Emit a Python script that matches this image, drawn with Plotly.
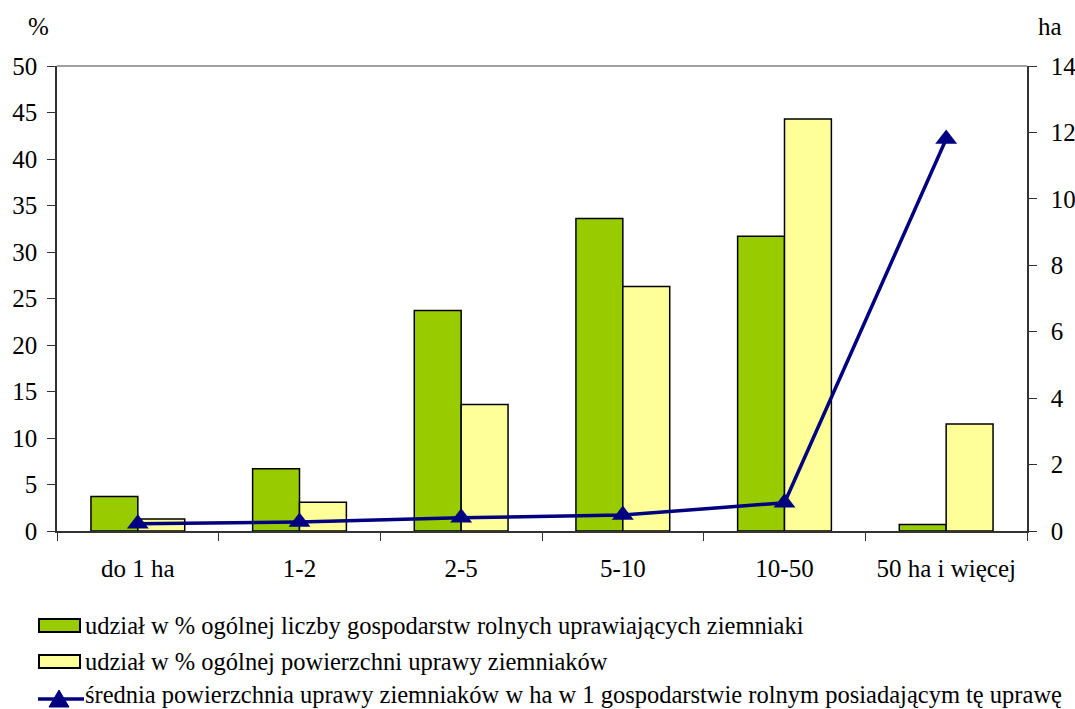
import plotly.graph_objects as go

categories = ["do 1 ha", "1-2", "2-5", "5-10", "10-50", "50 ha i więcej"]
share_farms = [3.7, 6.7, 23.7, 33.6, 31.7, 0.7]
share_area = [1.3, 3.1, 13.6, 26.3, 44.3, 11.5]
avg_area_ha = [0.22, 0.27, 0.4, 0.48, 0.85, 11.8]

legend_labels = [
    "udział w % ogólnej liczby gospodarstw rolnych uprawiających ziemniaki",
    "udział w % ogólnej powierzchni uprawy ziemniaków",
    "średnia powierzchnia uprawy ziemniaków w ha w 1 gospodarstwie rolnym posiadającym tę uprawę",
]

GREEN = "#99CC00"
YELLOW = "#FFFF99"
NAVY = "#000080"
FONT = "Liberation Serif"
FS_AX = 25
FS_LEG = 24.5

fig = go.Figure()
fig.add_trace(go.Bar(x=categories, y=share_farms, name=legend_labels[0],
                     marker=dict(color=GREEN, line=dict(color="black", width=1.5)),
                     showlegend=False))
fig.add_trace(go.Bar(x=categories, y=share_area, name=legend_labels[1],
                     marker=dict(color=YELLOW, line=dict(color="black", width=1.5)),
                     showlegend=False))
fig.add_trace(go.Scatter(x=categories, y=avg_area_ha, name=legend_labels[2], yaxis="y2",
                         mode="lines+markers",
                         line=dict(color=NAVY, width=3.5),
                         marker=dict(symbol="triangle-up", size=19, color=NAVY),
                         showlegend=False))

W, H = 1075, 709
PL, PR, PT, PB = 57, 1027, 66, 531          # plot area in page pixels
L, T = PL, PT
R = W - PR
B = H - PB
pw, ph = PR - PL, PB - PT

def px(x):
    return (x - PL) / pw

def py(y):
    return (PB - y) / ph

shapes = [
    dict(type="line", xref="paper", yref="paper", x0=0, x1=1, y0=1, y1=1,
         line=dict(color="#808080", width=1.5)),
]
annotations = [
    dict(text="%", xref="paper", yref="paper", x=px(38), y=py(27), showarrow=False,
         xanchor="center", yanchor="middle",
         font=dict(family=FONT, size=FS_AX, color="black")),
    dict(text="ha", xref="paper", yref="paper", x=px(1050), y=py(27), showarrow=False,
         xanchor="center", yanchor="middle",
         font=dict(family=FONT, size=FS_AX, color="black")),
]

# custom legend
legend_rows = [625, 661, 695]
for c, yy in zip([GREEN, YELLOW], legend_rows[:2]):
    shapes.append(dict(type="rect", xref="paper", yref="paper",
                       x0=px(39), x1=px(80), y0=py(yy + 7), y1=py(yy - 6),
                       fillcolor=c, line=dict(color="black", width=2)))
shapes.append(dict(type="line", xref="paper", yref="paper",
                   x0=px(38), x1=px(84), y0=py(699), y1=py(699),
                   line=dict(color=NAVY, width=3.5)))
shapes.append(dict(type="path", xref="paper", yref="paper",
                   path=f"M {px(49)} {py(707)} L {px(59)} {py(690)} L {px(69)} {py(707)} Z",
                   fillcolor=NAVY, line=dict(color=NAVY, width=1)))
for lab, yy in zip(legend_labels, legend_rows):
    annotations.append(dict(text=lab, xref="paper", yref="paper", x=px(83), y=py(yy),
                            xanchor="left", yanchor="middle", showarrow=False,
                            font=dict(family=FONT, size=FS_LEG, color="black")))

axis_common = dict(showline=True, linecolor="#333333", linewidth=1.5,
                   ticks="outside", ticklen=8, tickcolor="#333333", showgrid=False,
                   zeroline=False, automargin=False,
                   tickfont=dict(family=FONT, size=FS_AX))

fig.update_layout(
    width=W, height=H,
    margin=dict(l=L, r=R, t=T, b=B, pad=0),
    paper_bgcolor="white", plot_bgcolor="white",
    barmode="group", bargap=0.42, bargroupgap=0,
    font=dict(family=FONT, size=FS_AX, color="black"),
    xaxis=dict(type="category", tickson="boundaries", ticklabelstandoff=14, **axis_common),
    yaxis=dict(range=[0, 50], dtick=5, ticklabelstandoff=5, **axis_common),
    yaxis2=dict(range=[0, 14], dtick=2, overlaying="y", side="right",
                ticklabelstandoff=9, **axis_common),
    shapes=shapes,
    annotations=annotations,
)

fig.write_html("out.html", config={"displayModeBar": False},
               post_script="document.body.style.margin='0';")
